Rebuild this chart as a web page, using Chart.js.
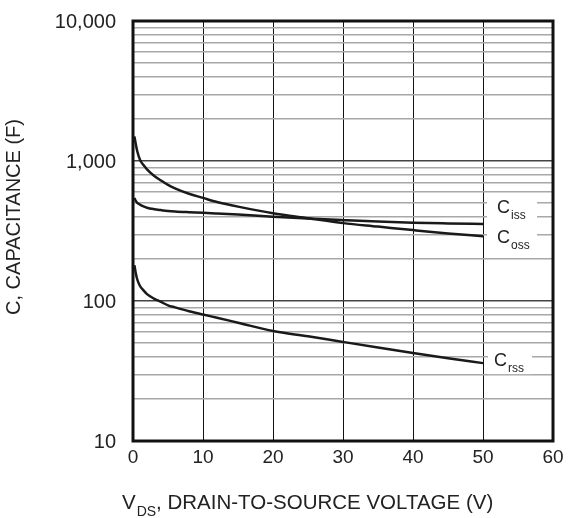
<!DOCTYPE html>
<html>
<head>
<meta charset="utf-8">
<script src="https://cdn.jsdelivr.net/npm/chart.js@4"></script>
<style>
  html, body { margin: 0; padding: 0; background: #fff; }
  #wrap { width: 571px; height: 518px; position: relative; }
</style>
</head>
<body>
<div id="wrap"><canvas id="chart"></canvas></div>
<script>
// Capacitance vs. drain-to-source voltage
const voltage = [0.2, 0.4, 0.6, 1, 1.5, 2, 3, 4, 5, 6, 8, 10, 12, 15, 20, 25, 30, 35, 40, 45, 50]
const ciss = [545, 518, 503, 488, 474, 464, 453, 446, 440, 436, 431, 427, 422, 414, 400, 388, 378, 369, 362, 358, 355]
const coss = [1500, 1320, 1180, 1020, 935, 872, 785, 725, 675, 638, 583, 545, 510, 472, 423, 390, 360, 340, 321, 304, 290]
const crss = [180, 158, 143, 128, 119, 112, 104, 98.5, 93, 90, 84.5, 80, 76, 70, 61, 56, 51, 46.5, 42.5, 39, 36]
const seriesNames = ["iss", "oss", "rss"]
const xTicks = [0, 10, 20, 30, 40, 50, 60]
const yTicks = [10, 100, 1000, 10000]

const FONT = "'Liberation Sans', Arial, sans-serif"
const INK = "#222"

const points = (ys) => voltage.map((v, i) => ({ x: v, y: ys[i] }))

// curve labels: offset from the last point of each series
const labelOffsets = {
  iss: { dx: 14, dy: -11, box: [-10, -16, 40, 6] },
  oss: { dx: 14, dy: 7, box: [-10, -14, 40, 8] },
  rss: { dx: 11, dy: 3, box: [-6, -14, 38, 8] }
}

const decorations = {
  id: "decorations",
  afterDatasetsDraw(chart) {
    const { ctx, chartArea: a, scales } = chart
    ctx.save()

    // curve labels with a white patch that breaks the grid lines
    chart.data.datasets.forEach((ds, i) => {
      const last = ds.data[ds.data.length - 1]
      const px = scales.x.getPixelForValue(last.x)
      const py = scales.y.getPixelForValue(last.y)
      const name = seriesNames[i]
      const o = labelOffsets[name]
      const lx = px + o.dx
      const ly = py + o.dy
      ctx.fillStyle = "#fff"
      ctx.fillRect(lx + o.box[0], ly + o.box[1], o.box[2] - o.box[0], o.box[3] - o.box[1])
      ctx.fillStyle = INK
      ctx.textBaseline = "alphabetic"
      ctx.textAlign = "left"
      ctx.font = "18px " + FONT
      ctx.fillText("C", lx, ly)
      const cw = ctx.measureText("C").width
      ctx.font = "12px " + FONT
      ctx.fillText(name, lx + cw + 1, ly + 6)
    })

    // heavy frame round the plot
    ctx.strokeStyle = "#111"
    ctx.lineWidth = 3
    ctx.strokeRect(a.left, a.top, a.right - a.left, a.bottom - a.top)

    // decade labels on the log axis
    ctx.fillStyle = INK
    ctx.font = "20px " + FONT
    ctx.textAlign = "right"
    ctx.textBaseline = "middle"
    yTicks.forEach(v => {
      ctx.fillText(v.toLocaleString("en-US"), a.left - 17, scales.y.getPixelForValue(v) + 1)
    })

    // axis titles
    ctx.textAlign = "center"
    ctx.translate(14, 217)
    ctx.rotate(-Math.PI / 2)
    ctx.fillText("C, CAPACITANCE (F)", 0, 0)
    ctx.setTransform(1, 0, 0, 1, 0, 0)

    ctx.textAlign = "left"
    ctx.textBaseline = "alphabetic"
    let x = 122
    const base = 509
    ctx.font = "20.5px " + FONT
    ctx.fillText("V", x, base)
    x += ctx.measureText("V").width + 1
    ctx.font = "14px " + FONT
    ctx.fillText("DS", x, base + 7)
    x += ctx.measureText("DS").width
    ctx.font = "20.5px " + FONT
    ctx.fillText(", DRAIN-TO-SOURCE VOLTAGE (V)", x, base)
    ctx.restore()
  }
}

const lineStyle = {
  borderColor: "#1a1a1a",
  borderWidth: 2.5,
  pointRadius: 0,
  fill: false,
  cubicInterpolationMode: "monotone"
}

new Chart(document.getElementById("chart"), {
  type: "line",
  data: {
    datasets: [
      { label: "Ciss", data: points(ciss), ...lineStyle },
      { label: "Coss", data: points(coss), ...lineStyle },
      { label: "Crss", data: points(crss), ...lineStyle }
    ]
  },
  options: {
    responsive: true,
    maintainAspectRatio: false,
    animation: false,
    layout: { padding: { left: 0, top: 21, right: 18, bottom: 0 } },
    plugins: { legend: { display: false }, tooltip: { enabled: false } },
    scales: {
      x: {
        type: "linear",
        min: 0,
        max: 60,
        afterBuildTicks: (scale) => { scale.ticks = xTicks.map(v => ({ value: v })) },
        afterFit: (scale) => { scale.height = 77 },
        grid: { color: "#111", lineWidth: 1, drawTicks: false },
        border: { display: false },
        ticks: {
          padding: 5,
          color: INK,
          font: { family: FONT, size: 19 },
          autoSkip: false,
          maxRotation: 0
        }
      },
      y: {
        type: "logarithmic",
        min: 10,
        max: 10000,
        afterBuildTicks: (scale) => {
          const t = []
          for (let d = 10; d < 10000; d *= 10) {
            for (let k = 1; k < 10; k++) t.push({ value: d * k })
          }
          t.push({ value: 10000 })
          scale.ticks = t
        },
        afterFit: (scale) => { scale.width = 133 },
        grid: {
          drawTicks: false,
          color: (c) => yTicks.includes(c.tick.value) ? "#444" : "#a8a8a8",
          lineWidth: 1.4
        },
        border: { display: false },
        ticks: { display: false }
      }
    }
  },
  plugins: [decorations]
})
</script>
</body>
</html>
